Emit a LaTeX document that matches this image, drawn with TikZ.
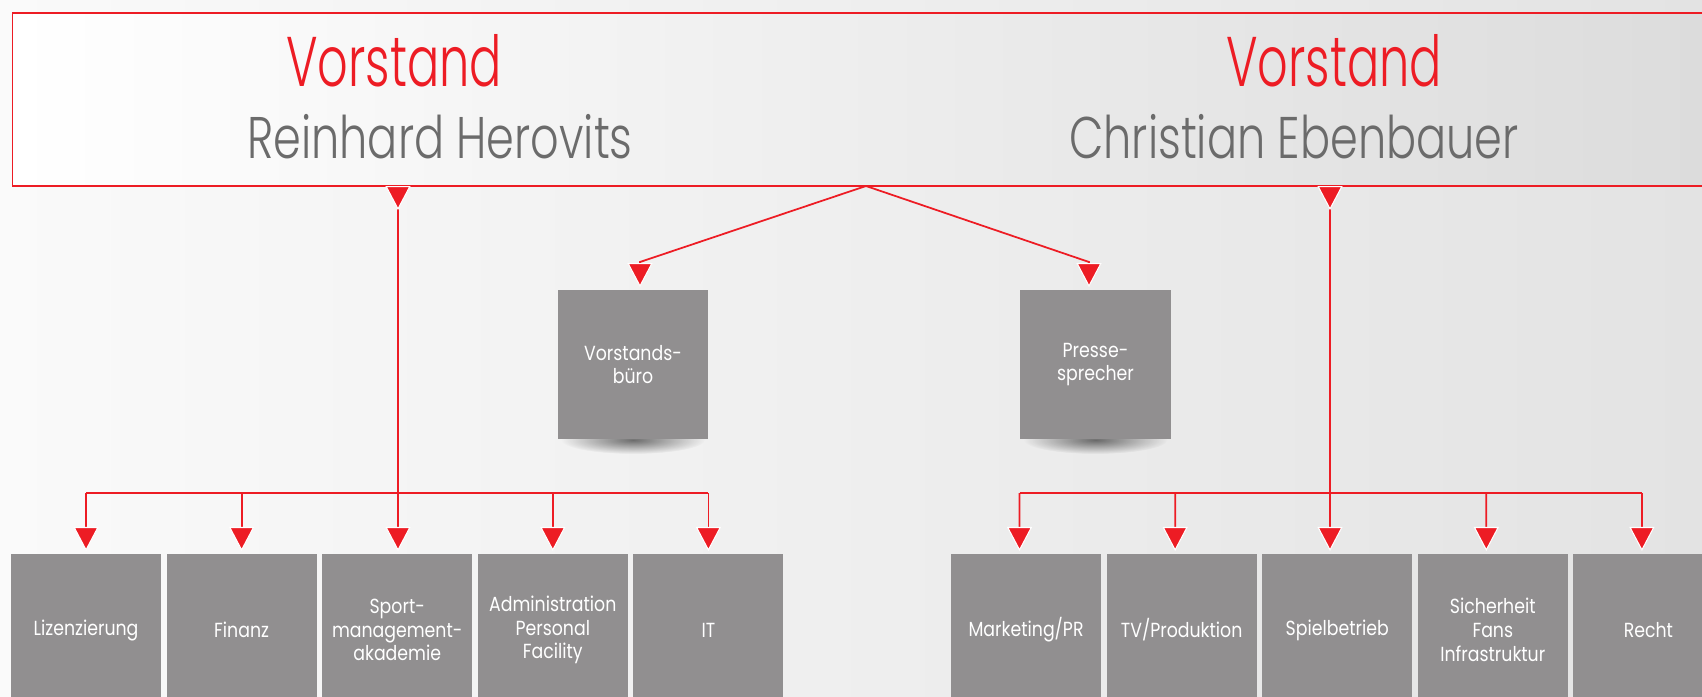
\documentclass[tikz,border=0pt]{standalone}
\usepackage{fontspec}
\setmainfont{Poppins}[FakeStretch=0.85]
\newfontfamily\headfont{Poppins Light}[FakeStretch=0.68]
\newfontfamily\namefont{Poppins Light}[FakeStretch=0.76]
\usetikzlibrary{arrows.meta,positioning,fadings}

\definecolor{vred}{HTML}{ED1C24}
\definecolor{boxgray}{HTML}{918F90}
\definecolor{namegray}{HTML}{6B6B6B}
\definecolor{bgleft}{HTML}{FAFAFA}
\definecolor{bgright}{HTML}{E3E3E3}
\definecolor{boardright}{HTML}{DCDCDC}

\tikzfading[name=softspot, inner color=transparent!0, outer color=transparent!100]

\tikzset{
  board/.style={draw=vred, line width=0.5pt, left color=white, right color=boardright,
    minimum width=16.9cm, minimum height=1.73cm, inner sep=0pt},
  unit/.style={fill=boxgray, text=white, minimum width=1.5cm, minimum height=1.52cm,
    inner sep=0pt, outer sep=0pt, align=center, font=\fontsize{5.8}{6.75}\selectfont},
  office/.style={unit, minimum height=1.49cm},
  vline/.style={draw=vred, line width=0.5pt},
  redtri/.tip={Triangle[width=0.25cm, length=0.24cm, color=white, fill=vred, line width=0.3pt]},
  downarr/.style={vline, shorten >=0.03cm, -redtri},
  bothtri/.style={vline, shorten >=0.03cm, {redtri[reversed]}-redtri},
}

\begin{document}
\begin{tikzpicture}[x=0.01cm, y=-0.01cm]
  \useasboundingbox (0,0) rectangle (1702,697);
  \shade[left color=bgleft, right color=bgright] (0,0) rectangle (1702,697);

  % board
  \node[board] (board) at (858,99.5) {};
  \node[anchor=base, text=vred, font=\headfont\fontsize{20}{24}\selectfont] (v1) at (394,86) {Vorstand};
  \node[anchor=base, text=namegray, font=\namefont\fontsize{16.7}{20}\selectfont] (n1) at (440,159) {Reinhard Herovits};
  \node[anchor=base, text=vred, font=\headfont\fontsize{20}{24}\selectfont] (v2) at (1334,86) {Vorstand};
  \node[anchor=base, text=namegray, font=\namefont\fontsize{16.7}{20}\selectfont] (n2) at (1294,159) {Christian Ebenbauer};

  \coordinate (apex) at (866,186);
  \coordinate (lroot) at (398,186);
  \coordinate (rroot) at (1330,186);
  \coordinate (lbar) at (398,493);
  \coordinate (lkink) at (640,262);
  \coordinate (rkink) at (1089,262);

  % shadows
  \fill[black, opacity=0.55, path fading=softspot] (633,440) ellipse (72 and 14);
  \fill[black, opacity=0.55, path fading=softspot] (1095.5,440) ellipse (72 and 14);

  % staff
  \node[office] (vb) at (633,364.6) {Vorstands-\\büro};
  \node[office] (ps) at (1095.5,364.6) {Presse-\\sprecher};

  % departments
  \node[unit, anchor=north west] (l1) at (11,554) {Lizenzierung};
  \node[unit, right=0.055cm of l1] (l2) {Finanz};
  \node[unit, right=0.055cm of l2] (l3) {Sport-\\management-\\akademie};
  \node[unit, right=0.055cm of l3] (l4) {Administration\\Personal\\Facility};
  \node[unit, right=0.055cm of l4] (l5) {IT};

  \node[unit, anchor=north west] (r1) at (951,554) {Marketing/PR};
  \node[unit, right=0.055cm of r1] (r2) {TV/Produktion};
  \node[unit, right=0.055cm of r2] (r3) {Spielbetrieb};
  \node[unit, right=0.055cm of r3] (r4) {Sicherheit\\Fans\\Infrastruktur};
  \node[unit, right=0.055cm of r4] (r5) {Recht};

  % connectors
  \draw[downarr] (apex) -- (lkink) -- (lkink |- vb.north);
  \draw[downarr] (apex) -- (rkink) -- (rkink |- ps.north);

  \draw[bothtri] (lroot) -- (lroot |- l3.north);
  \draw[vline] (l1.north |- lbar) -- (l5.north |- lbar);
  \foreach \i in {1,2,4,5}
    \draw[downarr] (l\i.north |- lbar) -- (l\i.north);

  \draw[bothtri] (rroot) -- (rroot |- r3.north);
  \draw[vline] ([shift={(-6.5,-61)}]r1.north) -- ([shift={(-6.5,-61)}]r5.north);
  \foreach \i in {1,2,4,5}
    \draw[downarr] ([shift={(-6.5,-61)}]r\i.north) -- ([xshift=-0.065cm]r\i.north);
\end{tikzpicture}
\end{document}
